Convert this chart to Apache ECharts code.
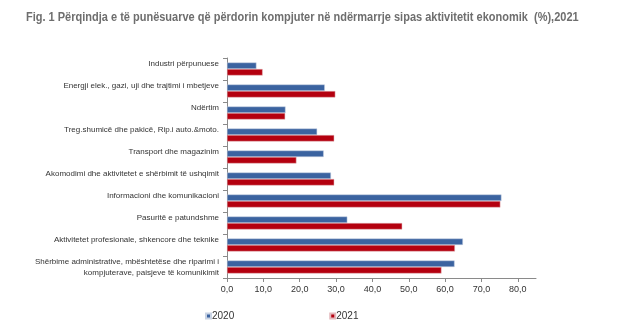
<!DOCTYPE html>
<html>
<head>
<meta charset="utf-8">
<script src="https://cdn.jsdelivr.net/npm/echarts@6/dist/echarts.min.js"></script>
<style>html,body{margin:0;padding:0;background:#fff}#c{width:621px;height:333px}</style>
</head>
<body>
<div id="c"></div>
<script>
const titleText = 'Fig. 1 Përqindja e të punësuarve që përdorin kompjuter në ndërmarrje sipas aktivitetit ekonomik  (%),2021';
const categories = [
  'Industri përpunuese',
  'Energji elek., gazi, uji dhe trajtimi i mbetjeve',
  'Ndërtim',
  'Treg.shumicë dhe pakicë, Rip.i auto.&moto.',
  'Transport dhe magazinim',
  'Akomodimi dhe aktivitetet e shërbimit të ushqimit',
  'Informacioni dhe komunikacioni',
  'Pasuritë e patundshme',
  'Aktivitetet profesionale, shkencore dhe teknike',
  'Shërbime administrative, mbështetëse dhe riparimi i\nkompjuterave, paisjeve të komunikimit'
];
const series2020 = [8.1, 26.9, 16.1, 24.8, 26.6, 28.6, 75.5, 33.1, 64.9, 62.6];
const series2021 = [9.8, 29.8, 16.0, 29.5, 19.1, 29.5, 75.2, 48.2, 62.7, 59.0];
const tickValues = [0, 10, 20, 30, 40, 50, 60, 70, 80];

const chart = echarts.init(document.getElementById('c'), null, {renderer: 'canvas'});
chart.setOption({
  animation: false,
  backgroundColor: '#fff',
  graphic: [{
    type: 'text', x: 26, y: 18, scaleX: 0.88,
    style: {text: titleText, fill: '#6e6e6e', font: 'bold 12.5px "Liberation Sans"', verticalAlign: 'middle', align: 'left'}
  }],
  legend: {
    data: ['2020', '2021'],
    bottom: 7, left: 200,
    itemGap: 95,
    itemWidth: 5, itemHeight: 5,
    icon: 'rect',
    textStyle: {fontFamily: 'Liberation Sans', fontSize: 10, color: '#333', padding: [0,0,0,-4]}
  },
  grid: {left: 227, right: 85, top: 58, bottom: 55},
  xAxis: {
    type: 'value', min: 0, max: 85,
    axisLine: {show: true, lineStyle: {color: '#8a8a8a'}},
    axisTick: {show: true, length: 4, customValues: tickValues, lineStyle: {color: '#8a8a8a'}},
    axisLabel: {customValues: tickValues, fontFamily: 'Liberation Sans', fontSize: 9, color: '#333', margin: 7,
      formatter: v => v.toFixed(1).replace('.', ',')},
    splitLine: {show: false}
  },
  yAxis: {
    type: 'category', data: categories, inverse: true,
    axisLine: {show: true, lineStyle: {color: '#8a8a8a'}},
    axisTick: {show: true, length: 4, lineStyle: {color: '#8a8a8a'}},
    axisLabel: {fontFamily: 'Liberation Sans', fontSize: 8, color: '#333', margin: 8, lineHeight: 11,
      formatter: v => v.indexOf('\n') >= 0 ? v : v + '\n '}
  },
  series: [
    {name: '2020', type: 'bar', data: series2020, barWidth: 6.5, barGap: '0%',
     itemStyle: {color: '#3b63a0', borderColor: '#c9d3e3', borderWidth: 0.5}},
    {name: '2021', type: 'bar', data: series2021, barWidth: 6.5, barGap: '0%',
     itemStyle: {color: '#b4000f', borderColor: '#e3b8bc', borderWidth: 0.5}}
  ]
});
</script>
</body>
</html>
